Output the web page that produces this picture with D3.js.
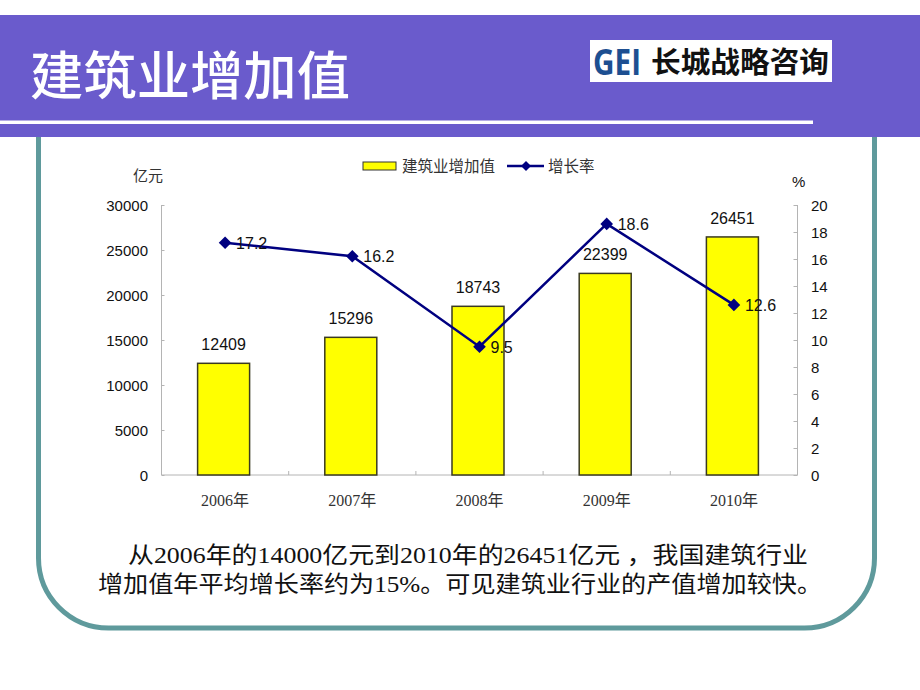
<!DOCTYPE html>
<html><head><meta charset="utf-8">
<script src="https://cdn.jsdelivr.net/npm/d3@7"></script>
<style>html,body{margin:0;padding:0;background:#fff;}svg{display:block;}</style>
</head><body>
<svg id="c" width="920" height="690"></svg>
<script>
const categories = ["2006年","2007年","2008年","2009年","2010年"];
const valueAdded = [12409, 15296, 18743, 22399, 26451];
const growthRate = [17.2, 16.2, 9.5, 18.6, 12.6];
const leftTicks = [0, 5000, 10000, 15000, 20000, 25000, 30000];
const rightTicks = [0, 2, 4, 6, 8, 10, 12, 14, 16, 18, 20];
const legendLabels = ["建筑业增加值", "增长率"];
const titleText = "建筑业增加值";
const noteLines = ["从2006年的14000亿元到2010年的26451亿元 ，我国建筑行业", "增加值年平均增长率约为15%。可见建筑业行业的产值增加较快。"];

const svg = d3.select("#c");
const sans = "'Liberation Sans', Arial, 'Noto Sans CJK SC', sans-serif";
const cjk = "'Noto Sans CJK SC', sans-serif";
const serif = "'Liberation Serif', 'Noto Sans CJK SC', serif";

// frame (rounded teal)
svg.append("rect").attr("x", 38.5).attr("y", 60).attr("width", 836).attr("height", 568)
  .attr("rx", 70).attr("ry", 70).attr("fill", "none").attr("stroke", "#5f9a9c").attr("stroke-width", 5);

// header band
svg.append("rect").attr("x", 0).attr("y", 15).attr("width", 920).attr("height", 122).attr("fill", "#6a5bcc");
svg.append("rect").attr("x", 0).attr("y", 120.5).attr("width", 813).attr("height", 3.5).attr("fill", "#ffffff");
svg.append("text").attr("x", 30).attr("y", 95).attr("fill", "#fff")
  .attr("font-family", cjk).attr("font-size", 52).attr("font-weight", 500)
  .attr("textLength", 320).attr("lengthAdjust", "spacingAndGlyphs").text(titleText);

// logo
svg.append("rect").attr("x", 590).attr("y", 40).attr("width", 242).attr("height", 42).attr("fill", "#fff");
svg.append("text").attr("x", 593).attr("y", 75).attr("fill", "#1d4f91")
  .attr("font-family", "'Open Sans', 'Liberation Sans', sans-serif").attr("font-weight", 700).attr("font-size", 35)
  .attr("textLength", 48).attr("lengthAdjust", "spacingAndGlyphs").text("GEI");
svg.append("text").attr("x", 651).attr("y", 73).attr("fill", "#111")
  .attr("font-family", cjk).attr("font-weight", 700).attr("font-size", 29)
  .attr("textLength", 178).attr("lengthAdjust", "spacingAndGlyphs").text("长城战略咨询");

// chart scales
const x0 = 161.5, x1 = 797.5, yTop = 205, yBot = 475;
const x = d3.scaleBand().domain(categories).range([x0, x1]);
const yL = d3.scaleLinear().domain([0, 30000]).range([yBot, yTop]);
const yR = d3.scaleLinear().domain([0, 20]).range([yBot, yTop]);
const axisColor = "#b4b4b4";

// left axis
const gL = svg.append("g").attr("transform", `translate(${x0},0)`)
  .call(d3.axisRight(yL).tickValues(leftTicks).tickSize(3).tickFormat(""));
gL.selectAll("path,line").attr("stroke", axisColor);
gL.select(".domain").attr("d", `M0,${yTop}V${yBot}`);
svg.append("g").selectAll("text").data(leftTicks).join("text")
  .attr("x", 148).attr("y", d => yL(d) + 5.5).attr("text-anchor", "end")
  .attr("font-family", sans).attr("font-size", 15).attr("fill", "#111").text(d => d);

// right axis
const gR = svg.append("g").attr("transform", `translate(${x1},0)`)
  .call(d3.axisLeft(yR).tickValues(rightTicks).tickSize(4).tickFormat(""));
gR.selectAll("path,line").attr("stroke", axisColor);
gR.select(".domain").attr("d", `M0,${yTop}V${yBot}`);
svg.append("g").selectAll("text").data(rightTicks).join("text")
  .attr("x", 811).attr("y", d => yR(d) + 5.5).attr("text-anchor", "start")
  .attr("font-family", sans).attr("font-size", 15).attr("fill", "#111").text(d => d);

// bottom axis
const gB = svg.append("g").attr("transform", `translate(0,${yBot})`)
  .call(d3.axisTop(x).tickSize(0).tickFormat(""));
gB.select(".domain").attr("stroke", axisColor).attr("d", `M${x0},0H${x1}`);
gB.selectAll(".tick").remove();
svg.append("g").selectAll("line").data(categories.slice(1)).join("line")
  .attr("x1", d => x(d)).attr("x2", d => x(d)).attr("y1", yBot).attr("y2", yBot - 4)
  .attr("stroke", axisColor);
svg.append("g").selectAll("text").data(categories).join("text")
  .attr("x", d => x(d) + x.bandwidth() / 2).attr("y", 506).attr("text-anchor", "middle")
  .attr("font-family", serif).attr("font-size", 16).attr("fill", "#333").text(d => d);

// bars
const bw = 52;
const barData = categories.map((c, i) => ({c, v: valueAdded[i]}));
svg.append("g").selectAll("rect").data(barData).join("rect")
  .attr("x", d => x(d.c) + x.bandwidth() / 2 - bw / 2 - 1.5).attr("y", d => yL(d.v))
  .attr("width", bw).attr("height", d => yBot - yL(d.v))
  .attr("fill", "#ffff00").attr("stroke", "#3a3a20").attr("stroke-width", 1.5);
svg.append("g").selectAll("text").data(barData).join("text")
  .attr("x", d => x(d.c) + x.bandwidth() / 2 - 1.5).attr("y", d => yL(d.v) - 13).attr("text-anchor", "middle")
  .attr("font-family", sans).attr("font-size", 16).attr("fill", "#111").text(d => d.v);

// line
const lineData = categories.map((c, i) => ({c, v: growthRate[i]}));
const cx = d => x(d.c) + x.bandwidth() / 2;
svg.append("path").datum(lineData)
  .attr("d", d3.line().x(cx).y(d => yR(d.v)))
  .attr("fill", "none").attr("stroke", "#000080").attr("stroke-width", 2.5);
const diamond = d3.symbol(d3.symbolSquare, 80);
svg.append("g").selectAll("path").data(lineData).join("path")
  .attr("d", diamond()).attr("transform", d => `translate(${cx(d)},${yR(d.v)}) rotate(45)`)
  .attr("fill", "#000080");
svg.append("g").selectAll("text").data(lineData).join("text")
  .attr("x", d => cx(d) + 11).attr("y", d => yR(d.v) + 6)
  .attr("font-family", sans).attr("font-size", 16).attr("fill", "#111").text(d => d.v);

// unit labels
svg.append("text").attr("x", 133).attr("y", 181).attr("font-family", cjk).attr("font-size", 15)
  .attr("fill", "#333").text("亿元");
svg.append("text").attr("x", 792).attr("y", 187).attr("font-family", sans).attr("font-size", 15)
  .attr("fill", "#111").text("%");

// legend
const lg = svg.append("g");
lg.append("rect").attr("x", 363).attr("y", 162).attr("width", 33).attr("height", 8)
  .attr("fill", "#ffff00").attr("stroke", "#333").attr("stroke-width", 1);
lg.append("text").attr("x", 402).attr("y", 172).attr("font-family", cjk).attr("font-size", 15.5)
  .attr("fill", "#333").text(legendLabels[0]);
lg.append("line").attr("x1", 507).attr("x2", 544).attr("y1", 166).attr("y2", 166)
  .attr("stroke", "#000080").attr("stroke-width", 2.5);
lg.append("path").attr("d", d3.symbol(d3.symbolSquare, 50)()).attr("transform", "translate(526,166) rotate(45)")
  .attr("fill", "#000080");
lg.append("text").attr("x", 548).attr("y", 172).attr("font-family", cjk).attr("font-size", 15.5)
  .attr("fill", "#333").text(legendLabels[1]);

// note text
svg.append("text").attr("x", 128).attr("y", 563).attr("font-family", serif).attr("font-size", 23)
  .attr("fill", "#111").attr("textLength", 680).attr("lengthAdjust", "spacingAndGlyphs").text(noteLines[0]);
svg.append("text").attr("x", 98).attr("y", 592).attr("font-family", serif).attr("font-size", 23)
  .attr("fill", "#111").attr("textLength", 724).attr("lengthAdjust", "spacingAndGlyphs").text(noteLines[1]);
</script>
</body></html>
